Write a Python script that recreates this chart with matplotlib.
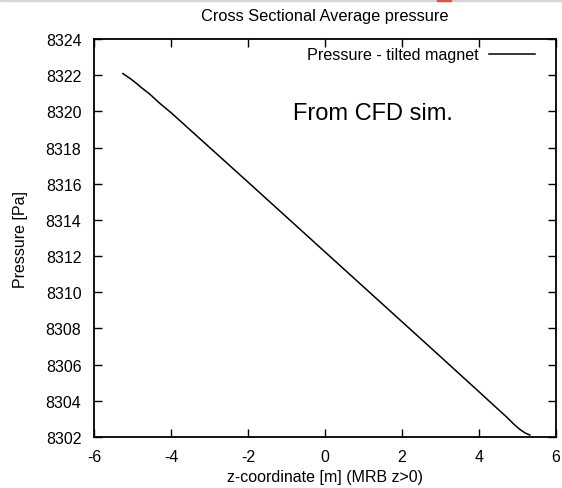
import matplotlib
matplotlib.use("Agg")
import matplotlib.pyplot as plt
from matplotlib.patches import Rectangle

plt.rcParams["font.family"] = ["Liberation Sans", "DejaVu Sans"]
plt.rcParams["axes.unicode_minus"] = False

# z-coordinate [m] and cross sectional average pressure [Pa]
z = [-5.25, -5.05, -4.90, -4.75, -4.55, -4.30, -4.00, -3.00, -2.00, -1.00,
     0.00, 1.00, 2.00, 3.00, 4.00, 4.42, 4.72, 4.90, 5.06, 5.20, 5.32]
pressure = [8322.09, 8321.80, 8321.55, 8321.28, 8320.95, 8320.46, 8319.93,
            8318.01, 8316.09, 8314.16, 8312.23, 8310.30, 8308.37, 8306.44,
            8304.50, 8303.68, 8303.10, 8302.72, 8302.42, 8302.22, 8302.11]

x_ticks = [-6, -4, -2, 0, 2, 4, 6]
y_ticks = list(range(8302, 8325, 2))

fig = plt.figure(figsize=(5.62, 4.89), dpi=100)
ax = fig.add_axes([94 / 562, 1 - 438 / 489, 462 / 562, 398 / 489])

ax.plot(z, pressure, color="black", linewidth=1.1,
        label="Pressure - tilted magnet")

ax.set_xlim(-6, 6)
ax.set_ylim(8302, 8324)
ax.set_xticks(x_ticks)
ax.set_yticks(y_ticks)
ax.tick_params(axis="x", direction="in", length=6, width=1.0, top=True,
               labelsize=11.5, pad=9)
ax.tick_params(axis="y", direction="in", length=6, width=1.0, right=True,
               labelsize=11.5, pad=9)
for s in ax.spines.values():
    s.set_linewidth(1.3)

ax.set_xlabel("z-coordinate [m] (MRB z>0)", fontsize=11.5, labelpad=3)
ax.set_ylabel("Pressure [Pa]", fontsize=11.5, labelpad=13)
fig.text(325 / 562, 1 - 17 / 489, "Cross Sectional Average pressure",
         ha="center", va="center", fontsize=11.8)

ax.legend(loc="upper right", frameon=False, markerfirst=False,
          fontsize=11.6, handlelength=2.8, borderaxespad=0.3,
          handletextpad=0.65, borderpad=0.1)
ax.get_legend().set_bbox_to_anchor((1 - 15 / 462, 1 - 2 / 398),
                                   transform=ax.transAxes)

ax.text((293 - 94) / 462, (438 - 114) / 398, "From CFD sim.", fontsize=17,
        va="center", ha="left", transform=ax.transAxes)

# screenshot strip at the very top
fig.patches.append(Rectangle((0, 1 - 2 / 489), 1, 2 / 489,
                             transform=fig.transFigure, color="#d6d6d6"))
fig.patches.append(Rectangle((437 / 562, 1 - 2 / 489), 14 / 562, 2 / 489,
                             transform=fig.transFigure, color="#d9534f"))

fig.savefig("out.png", dpi=100)
